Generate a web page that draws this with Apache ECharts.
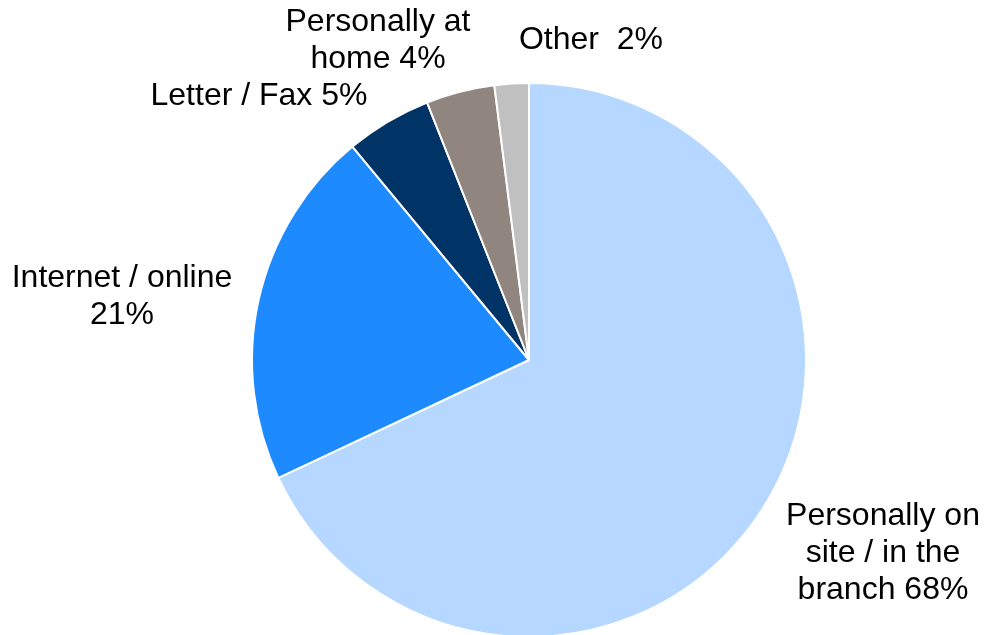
<!DOCTYPE html>
<html>
<head>
<meta charset="utf-8">
<script src="https://cdn.jsdelivr.net/npm/echarts@6/dist/echarts.min.js"></script>
<style>
  html, body { margin: 0; padding: 0; background: #ffffff; }
  #chart { width: 984px; height: 635px; }
</style>
</head>
<body>
<div id="chart"></div>
<script>
// Contact channels, clockwise from 12 o'clock
const categories = [
  'Personally on site / in the branch',
  'Internet / online',
  'Letter / Fax',
  'Personally at home',
  'Other'
];
const shares = [68, 21, 5, 4, 2];
const labelTexts = [
  'Personally on\nsite / in the\nbranch 68%',
  'Internet / online\n21%',
  'Letter / Fax 5%',
  'Personally at\nhome 4%',
  'Other  2%'
];
const sliceColors = ['#B6D7FF', '#1E8AFF', '#003366', '#918580', '#C0C0C0'];

// Label anchor points (centre of each text block)
const labelAnchors = [
  [883, 553],
  [122, 297],
  [259, 96],
  [378, 41],
  [591, 40]
];

const chart = echarts.init(document.getElementById('chart'), null, { renderer: 'canvas' });

chart.setOption({
  animation: false,
  backgroundColor: '#ffffff',
  series: [{
    type: 'pie',
    center: [529, 360],
    radius: [0, 277],
    startAngle: 90,
    clockwise: true,
    avoidLabelOverlap: false,
    itemStyle: { borderColor: '#ffffff', borderWidth: 2 },
    label: {
      show: true,
      position: 'outside',
      color: '#000000',
      fontFamily: '"Liberation Sans", Arial, sans-serif',
      fontSize: 32,
      lineHeight: 37,
      align: 'center',
      formatter: p => labelTexts[p.dataIndex]
    },
    labelLine: { show: false },
    labelLayout: p => ({
      x: labelAnchors[p.dataIndex][0],
      y: labelAnchors[p.dataIndex][1],
      align: 'center',
      verticalAlign: 'middle'
    }),
    emphasis: { disabled: true },
    data: categories.map((name, i) => ({
      name: name,
      value: shares[i],
      itemStyle: { color: sliceColors[i] }
    }))
  }]
});
</script>
</body>
</html>
